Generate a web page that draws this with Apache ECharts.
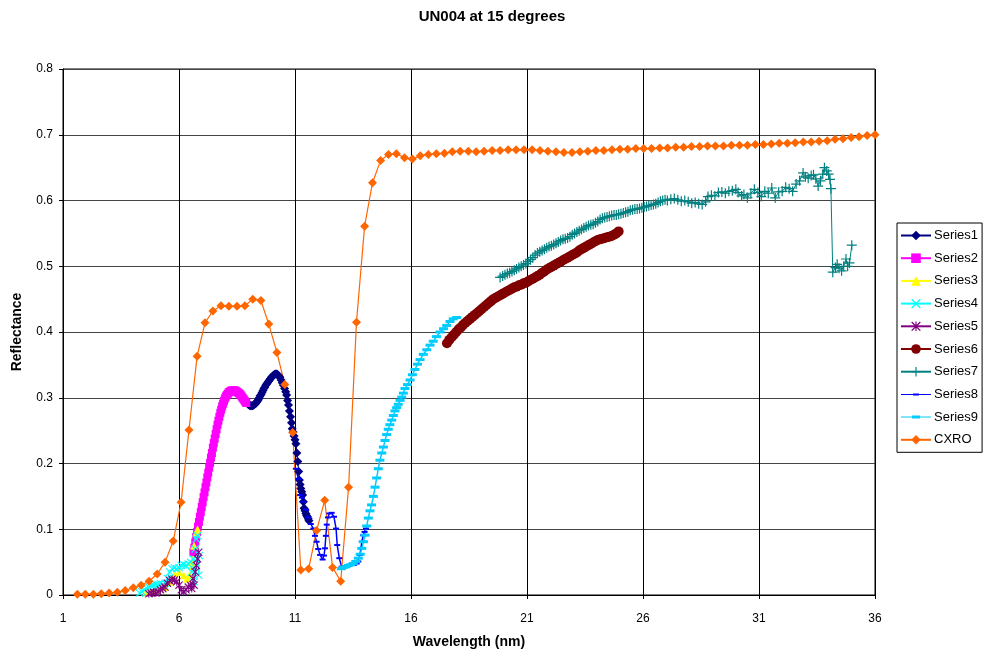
<!DOCTYPE html>
<html>
<head>
<meta charset="utf-8">
<script src="https://cdn.jsdelivr.net/npm/echarts@6/dist/echarts.min.js"></script>
<style>html,body{margin:0;padding:0;background:#fff;}#c{width:984px;height:654px;}</style>
</head>
<body>
<div id="c"></div>
<script>
var titleText = 'UN004 at 15 degrees';
var xName = 'Wavelength (nm)';
var yName = 'Reflectance';
var seriesNames = ['Series1','Series2','Series3','Series4','Series5','Series6','Series7','Series8','Series9','CXRO'];

var s1 = [[8.90,0.294],[8.94,0.292],[8.98,0.290],[9.02,0.289],[9.06,0.288],[9.10,0.288],[9.14,0.288],[9.18,0.288],[9.22,0.289],[9.26,0.290],[9.30,0.291],[9.34,0.293],[9.38,0.295],[9.42,0.297],[9.46,0.300],[9.50,0.303],[9.54,0.305],[9.58,0.308],[9.62,0.311],[9.66,0.314],[9.70,0.316],[9.74,0.319],[9.78,0.321],[9.82,0.323],[9.86,0.325],[9.90,0.327],[9.94,0.329],[9.98,0.331],[10.02,0.332],[10.06,0.334],[10.10,0.335],[10.14,0.336],[10.18,0.336],[10.22,0.336],[10.26,0.335],[10.30,0.333],[10.35,0.331],[10.40,0.327],[10.45,0.323],[10.50,0.319],[10.55,0.314],[10.60,0.309],[10.64,0.304],[10.68,0.296],[10.72,0.289],[10.76,0.280],[10.81,0.271],[10.85,0.262],[10.88,0.253],[10.92,0.248],[10.96,0.242],[11.00,0.236],[11.04,0.230],[11.08,0.216],[11.12,0.203],[11.16,0.188],[11.19,0.175],[11.22,0.168],[11.25,0.162],[11.29,0.157],[11.33,0.152],[11.36,0.142],[11.39,0.132],[11.43,0.128],[11.47,0.124],[11.50,0.121],[11.53,0.119],[11.57,0.116],[11.60,0.113]];

var s2 = [[6.62,0.065],[6.66,0.072],[6.70,0.080],[6.74,0.088],[6.78,0.096],[6.82,0.104],[6.86,0.111],[6.90,0.119],[6.94,0.126],[6.98,0.134],[7.02,0.141],[7.06,0.149],[7.10,0.156],[7.14,0.164],[7.18,0.171],[7.22,0.179],[7.26,0.186],[7.30,0.194],[7.34,0.201],[7.38,0.209],[7.42,0.216],[7.46,0.224],[7.50,0.231],[7.54,0.238],[7.58,0.245],[7.62,0.252],[7.66,0.259],[7.70,0.265],[7.74,0.271],[7.78,0.277],[7.82,0.282],[7.86,0.287],[7.90,0.291],[7.94,0.295],[7.98,0.299],[8.02,0.302],[8.06,0.304],[8.10,0.306],[8.14,0.308],[8.18,0.309],[8.22,0.310],[8.26,0.311],[8.30,0.311],[8.34,0.311],[8.38,0.311],[8.42,0.311],[8.46,0.310],[8.50,0.309],[8.54,0.308],[8.58,0.307],[8.62,0.306],[8.66,0.304],[8.70,0.302],[8.74,0.300],[8.78,0.298],[8.82,0.296],[8.86,0.294],[8.90,0.292]];

var s3 = [[4.60,0.005],[4.80,0.006],[5.00,0.008],[5.20,0.010],[5.40,0.012],[5.60,0.020],[5.80,0.030],[6.00,0.035],[6.20,0.030],[6.35,0.025],[6.45,0.030],[6.55,0.050],[6.65,0.075],[6.75,0.095],[6.80,0.100]];

var s4 = [[4.30,0.003],[4.40,0.005],[4.50,0.008],[4.60,0.010],[4.70,0.012],[4.80,0.014],[4.90,0.015],[5.00,0.016],[5.10,0.016],[5.20,0.017],[5.30,0.016],[5.40,0.018],[5.50,0.025],[5.60,0.035],[5.70,0.040],[5.80,0.041],[5.90,0.040],[6.00,0.042],[6.10,0.045],[6.20,0.046],[6.30,0.045],[6.40,0.047],[6.50,0.050],[6.55,0.035],[6.60,0.055],[6.65,0.020],[6.70,0.070],[6.75,0.085],[6.80,0.090],[6.85,0.030],[6.88,0.060]];

var s5 = [[4.70,0.002],[4.80,0.003],[4.90,0.004],[5.00,0.003],[5.10,0.005],[5.20,0.008],[5.30,0.010],[5.40,0.012],[5.50,0.018],[5.60,0.022],[5.70,0.024],[5.80,0.023],[5.90,0.020],[6.00,0.015],[6.10,0.008],[6.20,0.005],[6.30,0.008],[6.40,0.012],[6.50,0.015],[6.55,0.010],[6.60,0.025],[6.65,0.015],[6.70,0.035],[6.75,0.045],[6.80,0.055],[6.85,0.065]];

var s6 = [[17.55,0.383],[17.65,0.388],[17.75,0.392],[17.85,0.396],[17.95,0.400],[18.05,0.404],[18.15,0.407],[18.25,0.411],[18.35,0.414],[18.45,0.417],[18.55,0.420],[18.65,0.423],[18.75,0.426],[18.85,0.429],[18.95,0.432],[19.05,0.435],[19.15,0.438],[19.25,0.441],[19.35,0.444],[19.45,0.447],[19.55,0.450],[19.65,0.452],[19.75,0.454],[19.85,0.456],[19.95,0.458],[20.05,0.460],[20.15,0.462],[20.25,0.464],[20.35,0.466],[20.45,0.468],[20.55,0.469],[20.65,0.471],[20.75,0.472],[20.85,0.474],[20.95,0.475],[21.05,0.477],[21.15,0.479],[21.25,0.481],[21.35,0.483],[21.45,0.485],[21.55,0.487],[21.65,0.490],[21.75,0.492],[21.85,0.495],[21.95,0.497],[22.05,0.499],[22.15,0.501],[22.25,0.503],[22.35,0.505],[22.45,0.507],[22.55,0.509],[22.65,0.511],[22.75,0.513],[22.85,0.515],[22.95,0.517],[23.05,0.519],[23.15,0.521],[23.25,0.524],[23.35,0.526],[23.45,0.528],[23.55,0.530],[23.65,0.532],[23.75,0.534],[23.85,0.536],[23.95,0.538],[24.05,0.540],[24.15,0.541],[24.25,0.542],[24.35,0.543],[24.45,0.544],[24.55,0.545],[24.65,0.546],[24.75,0.548],[24.85,0.550],[24.95,0.553]];

var s7 = [[19.84,0.483],[19.95,0.485],[20.05,0.487],[20.15,0.489],[20.25,0.490],[20.35,0.492],[20.45,0.494],[20.55,0.496],[20.65,0.498],[20.75,0.500],[20.85,0.502],[20.95,0.504],[21.05,0.507],[21.15,0.510],[21.25,0.513],[21.35,0.517],[21.45,0.520],[21.55,0.522],[21.65,0.524],[21.75,0.526],[21.85,0.528],[21.95,0.530],[22.05,0.531],[22.15,0.533],[22.25,0.535],[22.35,0.537],[22.45,0.539],[22.55,0.541],[22.65,0.542],[22.75,0.543],[22.85,0.545],[22.95,0.548],[23.05,0.550],[23.15,0.552],[23.25,0.554],[23.35,0.556],[23.45,0.558],[23.55,0.560],[23.65,0.562],[23.75,0.563],[23.85,0.564],[23.95,0.566],[24.05,0.568],[24.15,0.571],[24.25,0.573],[24.35,0.574],[24.45,0.575],[24.55,0.576],[24.65,0.577],[24.75,0.578],[24.85,0.578],[24.95,0.579],[25.05,0.580],[25.15,0.581],[25.25,0.582],[25.35,0.583],[25.45,0.585],[25.55,0.586],[25.65,0.587],[25.75,0.587],[25.85,0.588],[25.95,0.589],[26.05,0.590],[26.15,0.591],[26.25,0.592],[26.35,0.593],[26.45,0.594],[26.55,0.595],[26.65,0.597],[26.75,0.599],[26.85,0.600],[26.95,0.601],[27.05,0.600],[27.20,0.602],[27.35,0.603],[27.50,0.601],[27.65,0.599],[27.80,0.600],[27.95,0.598],[28.10,0.596],[28.25,0.597],[28.40,0.595],[28.55,0.594],[28.70,0.598],[28.80,0.606],[28.95,0.608],[29.10,0.607],[29.25,0.612],[29.40,0.613],[29.55,0.611],[29.70,0.614],[29.85,0.615],[30.00,0.617],[30.10,0.612],[30.25,0.607],[30.35,0.609],[30.50,0.604],[30.65,0.611],[30.80,0.617],[30.95,0.612],[31.10,0.606],[31.25,0.614],[31.40,0.611],[31.55,0.619],[31.70,0.604],[31.85,0.613],[32.00,0.614],[32.15,0.620],[32.30,0.618],[32.45,0.614],[32.60,0.625],[32.75,0.630],[32.90,0.642],[33.00,0.636],[33.12,0.634],[33.25,0.638],[33.35,0.639],[33.45,0.633],[33.55,0.622],[33.65,0.630],[33.75,0.640],[33.82,0.650],[33.92,0.645],[34.00,0.640],[34.06,0.632],[34.10,0.618],[34.18,0.491],[34.30,0.498],[34.37,0.503],[34.45,0.497],[34.56,0.493],[34.65,0.500],[34.75,0.511],[34.82,0.500],[34.90,0.505],[35.00,0.532]];

var s8 = [[11.04,0.192],[11.14,0.177],[11.22,0.152],[11.30,0.148],[11.36,0.142],[11.48,0.130],[11.58,0.118],[11.68,0.108],[11.79,0.101],[11.86,0.090],[11.93,0.081],[12.00,0.070],[12.08,0.061],[12.19,0.054],[12.25,0.060],[12.29,0.071],[12.33,0.090],[12.37,0.107],[12.42,0.118],[12.48,0.124],[12.58,0.125],[12.68,0.119],[12.77,0.101],[12.82,0.076],[12.91,0.056],[13.01,0.043],[13.12,0.043],[13.23,0.043],[13.34,0.045],[13.44,0.046],[13.55,0.046],[13.66,0.048],[13.73,0.051],[13.80,0.061],[13.84,0.071],[13.88,0.081],[13.94,0.091],[14.00,0.096],[14.06,0.101]];

var s9 = [[13.00,0.040],[13.10,0.042],[13.20,0.043],[13.30,0.045],[13.40,0.046],[13.51,0.048],[13.62,0.051],[13.73,0.056],[13.81,0.062],[13.88,0.071],[13.95,0.081],[14.02,0.091],[14.09,0.105],[14.16,0.117],[14.23,0.128],[14.30,0.137],[14.38,0.150],[14.45,0.164],[14.52,0.178],[14.59,0.192],[14.66,0.205],[14.74,0.216],[14.81,0.225],[14.88,0.235],[14.95,0.244],[15.02,0.252],[15.09,0.259],[15.17,0.266],[15.24,0.273],[15.31,0.280],[15.38,0.285],[15.45,0.290],[15.53,0.296],[15.60,0.301],[15.67,0.307],[15.74,0.314],[15.85,0.320],[15.96,0.327],[16.06,0.335],[16.17,0.343],[16.28,0.351],[16.39,0.358],[16.53,0.366],[16.68,0.373],[16.82,0.380],[16.96,0.386],[17.10,0.393],[17.25,0.400],[17.40,0.405],[17.54,0.410],[17.68,0.416],[17.82,0.420],[17.97,0.422]];

var cxro = [[1.62,0.001],[1.96,0.001],[2.31,0.001],[2.65,0.002],[2.99,0.003],[3.34,0.004],[3.68,0.007],[4.03,0.011],[4.37,0.015],[4.71,0.021],[5.06,0.032],[5.40,0.050],[5.75,0.082],[6.09,0.141],[6.43,0.251],[6.78,0.363],[7.12,0.414],[7.46,0.432],[7.81,0.440],[8.15,0.439],[8.50,0.439],[8.84,0.440],[9.18,0.450],[9.53,0.448],[9.87,0.412],[10.22,0.369],[10.56,0.320],[10.90,0.247],[11.25,0.038],[11.59,0.040],[11.93,0.098],[12.28,0.144],[12.62,0.042],[12.97,0.021],[13.31,0.164],[13.65,0.415],[14.00,0.561],[14.34,0.627],[14.69,0.661],[15.03,0.670],[15.37,0.671],[15.72,0.665],[16.06,0.663],[16.40,0.668],[16.75,0.670],[17.09,0.671],[17.44,0.672],[17.78,0.674],[18.12,0.675],[18.47,0.675],[18.81,0.674],[19.15,0.675],[19.50,0.676],[19.84,0.676],[20.19,0.677],[20.53,0.677],[20.87,0.677],[21.22,0.677],[21.56,0.676],[21.90,0.675],[22.25,0.674],[22.59,0.673],[22.94,0.673],[23.28,0.674],[23.62,0.675],[23.97,0.676],[24.31,0.676],[24.66,0.677],[25.00,0.678],[25.34,0.678],[25.69,0.679],[26.03,0.679],[26.37,0.679],[26.72,0.680],[27.06,0.680],[27.41,0.681],[27.75,0.681],[28.09,0.682],[28.44,0.682],[28.78,0.683],[29.12,0.683],[29.47,0.683],[29.81,0.684],[30.16,0.684],[30.50,0.684],[30.84,0.685],[31.19,0.685],[31.53,0.686],[31.87,0.687],[32.22,0.687],[32.56,0.688],[32.91,0.689],[33.25,0.689],[33.59,0.690],[33.94,0.691],[34.28,0.693],[34.62,0.694],[34.97,0.696],[35.31,0.697],[35.66,0.699],[36.00,0.700]];

var FONT = 'Liberation Sans, Arial, sans-serif';
var P_X = 'path://M0,1L1,0L10,9L9,10Z M9,0L10,1L1,10L0,9Z';
var P_AST = 'path://M0,1L1,0L10,9L9,10Z M9,0L10,1L1,10L0,9Z M4.4,0H5.6V10H4.4Z';
var P_PLUS = 'path://M4.4,0H5.6V10H4.4Z M0,4.4H10V5.6H0Z';

function mk(name, data, color, symbol, size, lw) {
  return {
    name: name, type: 'line', data: data, symbol: symbol, symbolSize: size,
    showSymbol: true, smooth: false, animation: false,
    lineStyle: { color: color, width: lw },
    itemStyle: { color: color, borderColor: color, borderWidth: 0 },
    emphasis: { disabled: true }
  };
}

var legendData = seriesNames.map(function (n) {
  if (n === 'Series8') return { name: n, icon: 'path://M0,0.5H30V1.5H0Z M12,0H18V2H12Z' };
  if (n === 'Series9') return { name: n, icon: 'path://M0,1H30V2H0Z M11,0H19V3H11Z' };
  return { name: n };
});

var chart = echarts.init(document.getElementById('c'), null, { renderer: 'canvas' });
chart.setOption({
  animation: false,
  backgroundColor: '#fff',
  title: { text: titleText, left: 'center', top: 4,
    textStyle: { fontFamily: FONT, fontSize: 15, fontWeight: 'bold', color: '#000' } },
  grid: { left: 63, top: 69, right: 109, bottom: 57, show: true, borderColor: '#000', borderWidth: 1, containLabel: false },
  legend: {
    orient: 'vertical', left: 897, top: 223,
    padding: [6, 4, 6, 3], itemGap: 9.7, itemWidth: 30, itemHeight: 12,
    backgroundColor: '#fff', borderColor: '#000', borderWidth: 1, borderRadius: 0,
    textStyle: { fontFamily: FONT, fontSize: 13, color: '#000', lineHeight: 12, padding: [0, 0, 0, -2] },
    data: legendData
  },
  xAxis: {
    type: 'value', min: 1, max: 36, interval: 5,
    name: xName, nameLocation: 'middle', nameGap: 40,
    nameTextStyle: { fontFamily: FONT, fontSize: 14, fontWeight: 'bold', color: '#000' },
    axisLine: { show: true, lineStyle: { color: '#000', width: 1 } },
    axisTick: { show: true, inside: false, length: 4, lineStyle: { color: '#000' } },
    axisLabel: { fontFamily: FONT, fontSize: 12, color: '#000', margin: 18 },
    splitLine: { show: true, lineStyle: { color: '#000', width: 1 } }
  },
  yAxis: {
    type: 'value', min: 0, max: 0.8, interval: 0.1,
    name: yName, nameLocation: 'middle', nameGap: 39, nameRotate: 90,
    nameTextStyle: { fontFamily: FONT, fontSize: 14, fontWeight: 'bold', color: '#000' },
    axisLine: { show: true, lineStyle: { color: '#000', width: 1 } },
    axisTick: { show: true, inside: false, length: 4, lineStyle: { color: '#000' } },
    axisLabel: { fontFamily: FONT, fontSize: 12, color: '#000', margin: 10,
      formatter: function (v) { return v === 0 ? '0' : v.toFixed(1); } },
    splitLine: { show: true, lineStyle: { color: '#444', width: 1 } }
  },
  series: [
    mk('Series1', s1, '#000080', 'diamond', 9, 1),
    mk('Series2', s2, '#FF00FF', 'rect', 8, 1),
    mk('Series3', s3, '#FFFF00', 'triangle', 8, 1),
    mk('Series4', s4, '#00FFFF', P_X, 8, 1),
    mk('Series5', s5, '#800080', P_AST, 8, 1),
    mk('Series6', s6, '#800000', 'circle', 10, 1),
    mk('Series7', s7, '#008080', P_PLUS, 10, 1),
    mk('Series8', s8, '#0000FF', 'rect', [6, 2], 1.5),
    mk('Series9', s9, '#00CCFF', 'rect', [9, 3], 1.5),
    mk('CXRO', cxro, '#FF6600', 'diamond', 9, 1.2)
  ]
});
</script>
</body>
</html>
